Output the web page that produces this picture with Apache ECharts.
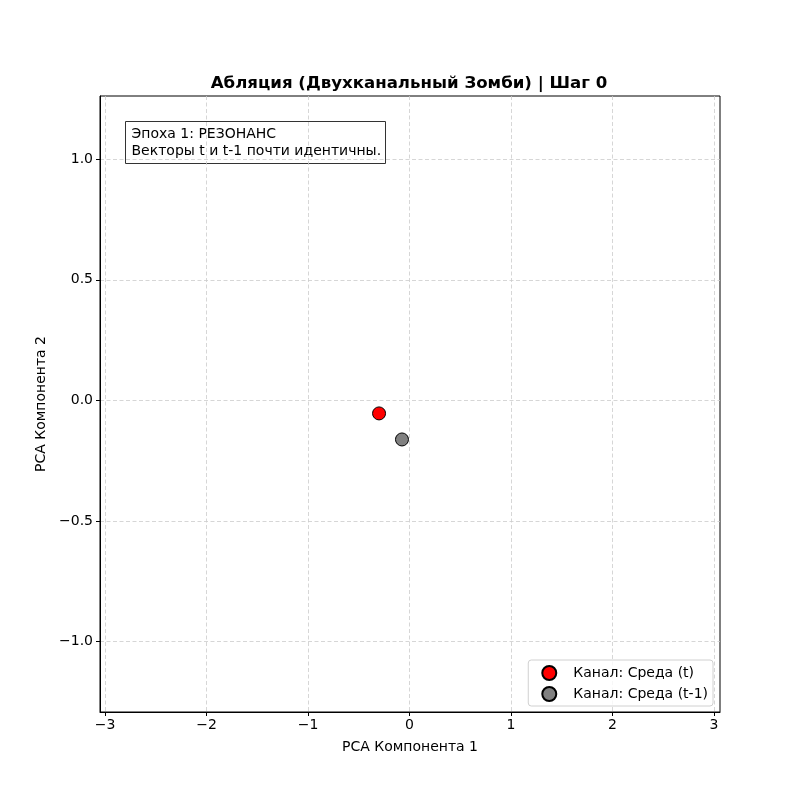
<!DOCTYPE html>
<html><head><meta charset="utf-8">
<script src="https://cdn.jsdelivr.net/npm/echarts@6/dist/echarts.min.js"></script>
<style>html,body{margin:0;padding:0;background:#fff}#c{width:800px;height:800px}</style>
</head><body><div id="c"></div>
<script>
const titleText = 'Абляция (Двухканальный Зомби) | Шаг 0';
const xName = 'PCA Компонента 1';
const yName = 'PCA Компонента 2';
const xTicks = [-3, -2, -1, 0, 1, 2, 3];
const yTicks = [-1.0, -0.5, 0.0, 0.5, 1.0];
const seriesNames = ['Канал: Среда (t)', 'Канал: Среда (t-1)'];
const pointT = [[-0.30, -0.054]];
const pointT1 = [[-0.074, -0.162]];
const noteLines = ['Эпоха 1: РЕЗОНАНС', 'Векторы t и t-1 почти идентичны.'];

const font = 'DejaVu Sans';
const fmt = v => { const s = Number.isInteger(v) ? String(v) : v.toFixed(1); return s.replace('-', '\u2212'); };
const fmtY = v => v.toFixed(1).replace('-', '\u2212');

const chart = echarts.init(document.getElementById('c'), null, {renderer: 'canvas'});
const axisCommon = {
  axisLine: {show: true, onZero: false, lineStyle: {color: '#000', width: 1}},
  axisTick: {show: true, length: 4, lineStyle: {color: '#000'}},
  splitLine: {show: true, lineStyle: {color: '#cccccc', type: [4, 2.5], width: 0.8}},
  nameTextStyle: {fontFamily: font, fontSize: 14, color: '#000'}
};
chart.setOption({
  animation: false,
  title: {text: titleText, left: 409, top: 75, textAlign: 'center', padding: 0,
    textStyle: {fontFamily: font, fontSize: 16.6, fontWeight: 'bold', color: '#000'}},
  grid: {left: 100, top: 96, width: 620, height: 616, show: true, borderColor: '#000', borderWidth: 1, backgroundColor: '#fff'},
  xAxis: Object.assign({}, axisCommon, {
    type: 'value', min: -3.05, max: 3.06,
    name: xName, nameLocation: 'middle', nameGap: 28,
    axisTick: Object.assign({}, axisCommon.axisTick, {customValues: xTicks}),
    axisLabel: {customValues: xTicks, formatter: fmt, fontFamily: font, fontSize: 14, color: '#000', margin: 6},
    splitLine: Object.assign({}, axisCommon.splitLine, {customValues: xTicks})
  }),
  yAxis: Object.assign({}, axisCommon, {
    type: 'value', min: -1.292, max: 1.262,
    name: yName, nameLocation: 'middle', nameGap: 52,
    axisTick: Object.assign({}, axisCommon.axisTick, {customValues: yTicks}),
    axisLabel: {customValues: yTicks, formatter: fmtY, fontFamily: font, fontSize: 14, color: '#000', margin: 7},
    splitLine: Object.assign({}, axisCommon.splitLine, {customValues: yTicks})
  }),
  legend: {
    right: 87, top: 660, orient: 'vertical', itemGap: 5,
    itemWidth: 14, itemHeight: 14, padding: [5, 5, 4, 13],
    borderColor: '#d0d0d0', borderWidth: 1, borderRadius: 3, backgroundColor: 'rgba(255,255,255,0.8)',
    textStyle: {fontFamily: font, fontSize: 14, color: '#000', padding: [0, 0, 0, 12]},
    data: [{name: seriesNames[0], icon: 'circle'}, {name: seriesNames[1], icon: 'circle'}]
  },
  series: [
    {name: seriesNames[0], type: 'scatter', data: pointT, symbolSize: 13,
      itemStyle: {color: '#ff0000', borderColor: '#000', borderWidth: 1, opacity: 1}},
    {name: seriesNames[1], type: 'scatter', data: pointT1, symbolSize: 13,
      itemStyle: {color: '#808080', borderColor: '#000', borderWidth: 1, opacity: 1}}
  ],
  graphic: [{
    type: 'group', left: 125, top: 121, z: 100,
    children: [
      {type: 'rect', shape: {x: 0, y: 0, width: 260, height: 42},
        style: {fill: '#fff', stroke: '#333', lineWidth: 1}},
      {type: 'text', x: 6, y: 4, style: {text: noteLines.join('\n'), font: '14px "DejaVu Sans"', fill: '#000', lineHeight: 17}}
    ]
  }]
});
</script></body></html>
